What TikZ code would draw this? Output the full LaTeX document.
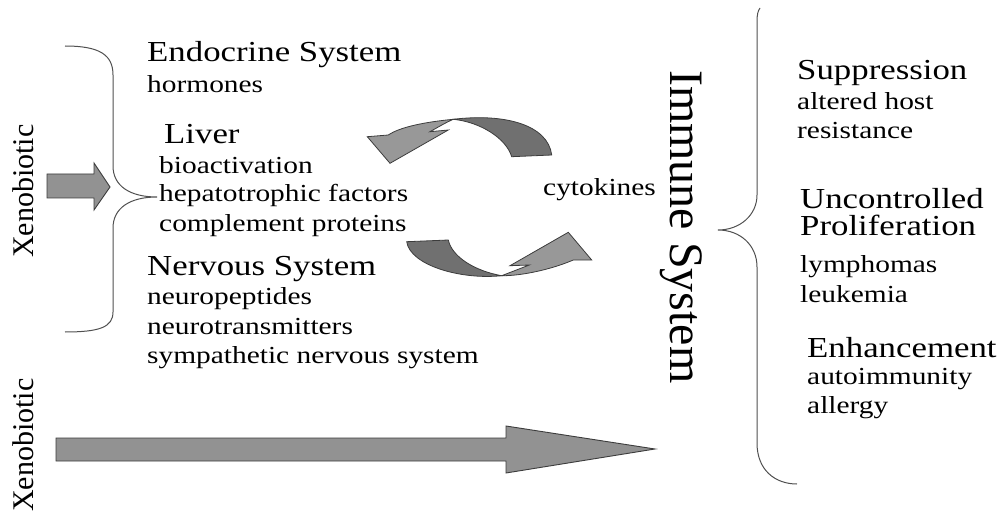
\documentclass[tikz,border=0pt]{standalone}
\usepackage{fontspec}
\setmainfont{Liberation Serif}
\newfontfamily\widefont{Liberation Serif}[FakeStretch=1.2]
\definecolor{arrowgray}{RGB}{146,146,146}
\definecolor{darkpart}{RGB}{112,112,112}
\definecolor{lightpart}{RGB}{152,152,152}
\definecolor{edgegray}{RGB}{60,60,60}
\definecolor{bracegray}{RGB}{80,80,80}
\tikzset{
  headtxt/.style={anchor=base west, inner sep=0pt, font=\widefont\fontsize{29}{29}\selectfont},
  subtxt/.style={anchor=base west, inner sep=0pt, font=\widefont\fontsize{24.5}{24.5}\selectfont},
  xenotxt/.style={anchor=base west, inner sep=0pt, rotate=90, font=\fontsize{30}{30}\selectfont},
  immunetxt/.style={anchor=base west, inner sep=0pt, rotate=-90, font=\fontsize{48}{48}\selectfont},
  blockarrow/.style={fill=arrowgray, draw=edgegray, line width=0.9pt, line join=miter},
  darkband/.style={fill=darkpart, draw=edgegray, line width=0.8pt},
  lightband/.style={fill=lightpart, draw=edgegray, line width=0.8pt},
  brace/.style={draw=bracegray, line width=1pt}
}
\begin{document}
\begin{tikzpicture}[x=1pt,y=-1pt]
\useasboundingbox (0,0) rectangle (1002,516);
% Xenobiotic labels
\node[xenotxt] (xeno1) at (33,258) {Xenobiotic};
\node[xenotxt] (xeno2) at (33,512) {Xenobiotic};
% small arrow
\draw[blockarrow] (47,174) -- (94,174) -- (94,163) -- (110,187) -- (94,210) -- (94,198) -- (47,198) -- cycle;
% big arrow
\draw[blockarrow] (56,438) -- (506,438) -- (506,426) -- (655,449) -- (506,473) -- (506,461) -- (56,461) -- cycle;
% left brace
\draw[brace] (65,46) .. controls (100,46) and (113,55) .. (113,75) -- (113,166)
  .. controls (113,186) and (130,197) .. (157,197)
  .. controls (130,197) and (113,208) .. (113,228) -- (113,312)
  .. controls (113,327) and (100,332) .. (65,332);
% right brace
\draw[brace] (760,8) .. controls (758,11) and (757,14) .. (757,22) -- (757,195)
  .. controls (757,215) and (740,230) .. (718,230)
  .. controls (740,230) and (757,245) .. (757,267) -- (757,443)
  .. controls (757,470) and (775,484) .. (797,484);
% left texts
\node[headtxt] (endo) at (147,62) {Endocrine System};
\node[subtxt] (horm) at (147,93) {hormones};
\node[headtxt] (liver) at (164,144) {Liver};
\node[subtxt] (bio) at (159,174) {bioactivation};
\node[subtxt] (hepa) at (159,202) {hepatotrophic factors};
\node[subtxt] (comp) at (159,231) {complement proteins};
\node[headtxt] (nerv) at (147,275) {Nervous System};
\node[subtxt] (neup) at (147,304) {neuropeptides};
\node[subtxt] (neut) at (147,334) {neurotransmitters};
\node[subtxt] (symp) at (147,363) {sympathetic nervous system};
% cytokines
\node[subtxt] (cyto) at (543,196) {cytokines};
% Immune System
\node[immunetxt] (immune) at (670,70) {Immune System};
% right texts
\node[headtxt] (supp) at (797,80) {Suppression};
\node[subtxt] (alt) at (797,110) {altered host};
\node[subtxt] (res) at (797,139) {resistance};
\node[headtxt] (unc) at (800,208) {Uncontrolled};
\node[headtxt] (prol) at (800,236) {Proliferation};
\node[subtxt] (lymph) at (800,272) {lymphomas};
\node[subtxt] (leuk) at (800,302) {leukemia};
\node[headtxt] (enh) at (807,357) {Enhancement};
\node[subtxt] (auto) at (807,384) {autoimmunity};
\node[subtxt] (allg) at (807,413) {allergy};
% top curved arrow
\draw[darkband] (453.3,119.3) .. controls (505,113) and (548,125) .. (551.7,155)
  -- (511.7,156.7) .. controls (506,138) and (480,122) .. (453.3,119.3) -- cycle;
\draw[lightband] (453.3,119.3) .. controls (425,122) and (400,127) .. (388.3,135)
  -- (367.3,136.7) -- (390,163.3) -- (448.3,130) -- (430,131.7)
  .. controls (440,126) and (447,122) .. (453.3,119.3) -- cycle;
% bottom curved arrow
\draw[darkband] (406.7,241.7) -- (448.3,240) .. controls (452,257) and (475,271) .. (501.7,275.7)
  .. controls (460,280) and (410,265) .. (406.7,241.7) -- cycle;
\draw[lightband] (501.7,275.7) -- (529.3,265) -- (510,265.7) -- (568.3,232.3) -- (591.7,260)
  -- (573.3,260) .. controls (550,270) and (520,276) .. (501.7,275.7) -- cycle;
\end{tikzpicture}
\end{document}
